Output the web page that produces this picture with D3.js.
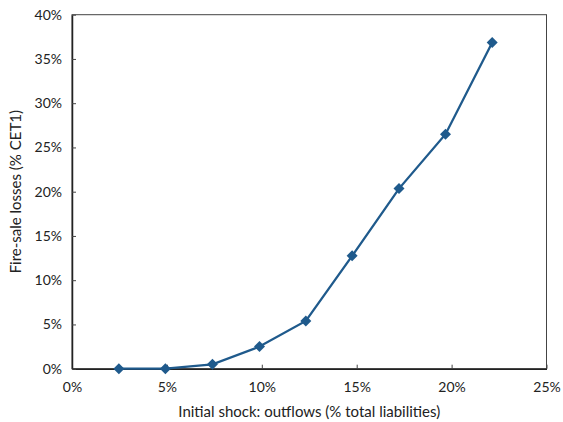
<!DOCTYPE html>
<html><head><meta charset="utf-8">
<script src="https://cdn.jsdelivr.net/npm/d3@7"></script>
<style>body{margin:0;background:#fff}text{font-family:Lato,"Open Sans",sans-serif;fill:#222}</style>
</head><body>
<svg id="c" width="563" height="422"></svg>
<script>
const shock = [2.47, 4.92, 7.40, 9.88, 12.32, 14.76, 17.23, 19.68, 22.14];
const losses = [0, 0, 0.5, 2.5, 5.4, 12.75, 20.35, 26.5, 36.85];
const xTicks = [0, 5, 10, 15, 20, 25];
const yTicks = [0, 5, 10, 15, 20, 25, 30, 35, 40];
const xTitle = "Initial shock: outflows (% total liabilities)";
const yTitle = "Fire-sale losses (% CET1)";

const svg = d3.select("#c");
const L = 72, R = 546.5, T = 14.7, B = 368.7;
const x = d3.scaleLinear().domain([0, 25]).range([L, R]);
const y = d3.scaleLinear().domain([0, 40]).range([B, T]);

svg.append("rect").attr("x", L).attr("y", T).attr("width", R - L).attr("height", B - T)
  .attr("fill", "none").attr("stroke", "#444").attr("stroke-width", 1);

const xa = svg.append("g").attr("transform", `translate(0,${B})`)
  .call(d3.axisBottom(x).tickValues(xTicks).tickFormat(d => d + "%").tickSizeInner(-4).tickSizeOuter(0).tickPadding(13));
const ya = svg.append("g").attr("transform", `translate(${L},0)`)
  .call(d3.axisLeft(y).tickValues(yTicks).tickFormat(d => d + "%").tickSizeInner(-4).tickSizeOuter(0).tickPadding(10));
[xa, ya].forEach(a => {
  a.select(".domain").attr("stroke", "#222").attr("stroke-width", 1.5);
  a.selectAll(".tick line").attr("stroke", "#444");
  a.selectAll("text").style("font-size", "14px").attr("fill", "#222");
});

const pts = shock.map((s, i) => [s, losses[i]]);
svg.append("path").datum(pts)
  .attr("d", d3.line().x(d => x(d[0])).y(d => y(d[1])))
  .attr("fill", "none").attr("stroke", "#1F5A8C").attr("stroke-width", 2.3);
svg.selectAll(".m").data(pts).enter().append("path")
  .attr("transform", d => `translate(${x(d[0])},${y(d[1])})`)
  .attr("d", "M0,-5.5L5.5,0L0,5.5L-5.5,0Z").attr("fill", "#1F5A8C");

svg.append("text").attr("x", (L + R) / 2).attr("y", 417).attr("text-anchor", "middle")
  .style("font-size", "15px").text(xTitle);
svg.append("text").attr("transform", `translate(21,${(T + B) / 2}) rotate(-90)`).attr("text-anchor", "middle")
  .style("font-size", "15px").text(yTitle);
</script>
</body></html>
